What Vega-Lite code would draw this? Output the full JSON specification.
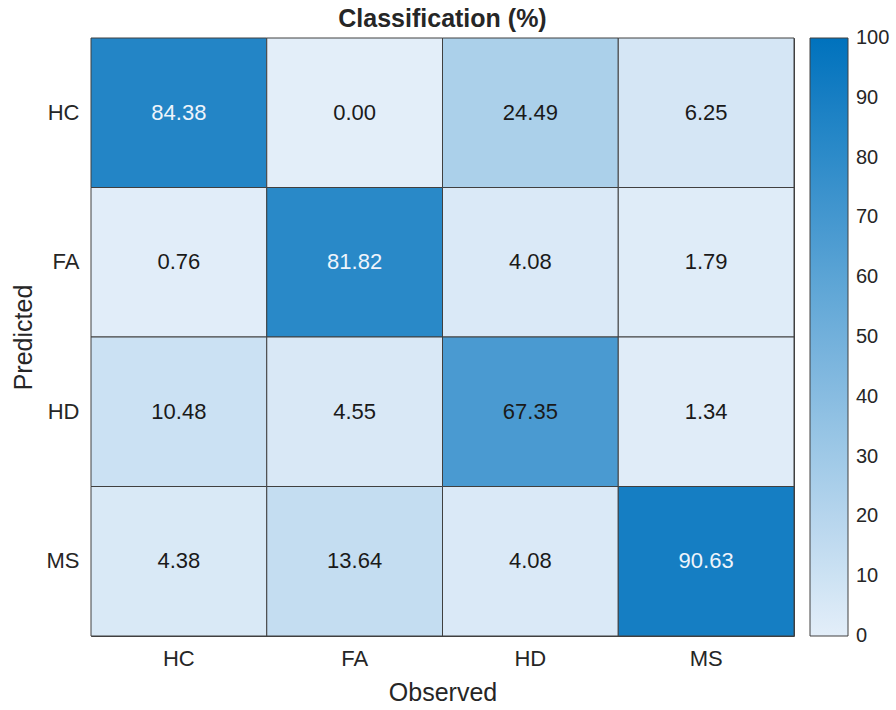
{
  "$schema": "https://vega.github.io/schema/vega-lite/v6.json",
  "autosize": "none",
  "padding": {"left": 91, "top": 38, "right": 102, "bottom": 74},
  "width": 703,
  "height": 598,
  "background": "white",
  "title": {"text": "Classification (%)", "font": "Liberation Sans", "fontSize": 25, "fontWeight": "bold", "color": "#262626", "offset": 6},
  "config": {"view": {"stroke": "#404040", "strokeWidth": 1}},
  "data": {"values": [
    {"observed": "HC", "predicted": "HC", "value": 84.38},
    {"observed": "FA", "predicted": "HC", "value": 0.00},
    {"observed": "HD", "predicted": "HC", "value": 24.49},
    {"observed": "MS", "predicted": "HC", "value": 6.25},
    {"observed": "HC", "predicted": "FA", "value": 0.76},
    {"observed": "FA", "predicted": "FA", "value": 81.82},
    {"observed": "HD", "predicted": "FA", "value": 4.08},
    {"observed": "MS", "predicted": "FA", "value": 1.79},
    {"observed": "HC", "predicted": "HD", "value": 10.48},
    {"observed": "FA", "predicted": "HD", "value": 4.55},
    {"observed": "HD", "predicted": "HD", "value": 67.35},
    {"observed": "MS", "predicted": "HD", "value": 1.34},
    {"observed": "HC", "predicted": "MS", "value": 4.38},
    {"observed": "FA", "predicted": "MS", "value": 13.64},
    {"observed": "HD", "predicted": "MS", "value": 4.08},
    {"observed": "MS", "predicted": "MS", "value": 90.63}
  ]},
  "encoding": {
    "x": {"field": "observed", "type": "nominal", "sort": ["HC", "FA", "HD", "MS"],
      "scale": {"paddingInner": 0, "paddingOuter": 0},
      "axis": {"title": "Observed", "labelAngle": 0, "ticks": false, "domain": false, "labelFont": "Liberation Sans", "labelFontSize": 22, "labelColor": "#262626", "labelPadding": 12, "titleFont": "Liberation Sans", "titleFontSize": 25, "titleFontWeight": "normal", "titleColor": "#262626", "titlePadding": 11}},
    "y": {"field": "predicted", "type": "nominal", "sort": ["HC", "FA", "HD", "MS"],
      "scale": {"paddingInner": 0, "paddingOuter": 0},
      "axis": {"title": "Predicted", "ticks": false, "domain": false, "labelFont": "Liberation Sans", "labelFontSize": 22, "labelColor": "#262626", "labelPadding": 12, "titleFont": "Liberation Sans", "titleFontSize": 25, "titleFontWeight": "normal", "titleColor": "#262626", "titlePadding": 10}}
  },
  "layer": [
    {
      "mark": {"type": "rect", "stroke": "#404040", "strokeWidth": 1},
      "encoding": {
        "color": {"field": "value", "type": "quantitative",
          "scale": {"domain": [0, 100], "range": ["#e3eef9", "#0072bd"], "interpolate": "rgb"},
          "legend": {"title": null, "orient": "right", "offset": 16, "padding": 0, "gradientLength": 598, "gradientThickness": 38, "gradientStrokeColor": "#404040", "gradientStrokeWidth": 1, "direction": "vertical", "values": [0, 10, 20, 30, 40, 50, 60, 70, 80, 90, 100], "labelFont": "Liberation Sans", "labelFontSize": 20, "labelColor": "#262626", "labelOffset": 8, "labelOverlap": false,
            "encode": {"labels": {"enter": {"baseline": {"value": "middle"}}, "update": {"baseline": {"value": "middle"}}}}}
        }
      }
    },
    {
      "mark": {"type": "text", "font": "Liberation Sans", "fontSize": 22, "baseline": "middle", "align": "center"},
      "encoding": {
        "text": {"field": "value", "type": "quantitative", "format": ".2f"},
        "color": {"condition": {"test": "datum.value > 75", "value": "#eef4fb"}, "value": "#1a1a1a"}
      }
    }
  ]
}
